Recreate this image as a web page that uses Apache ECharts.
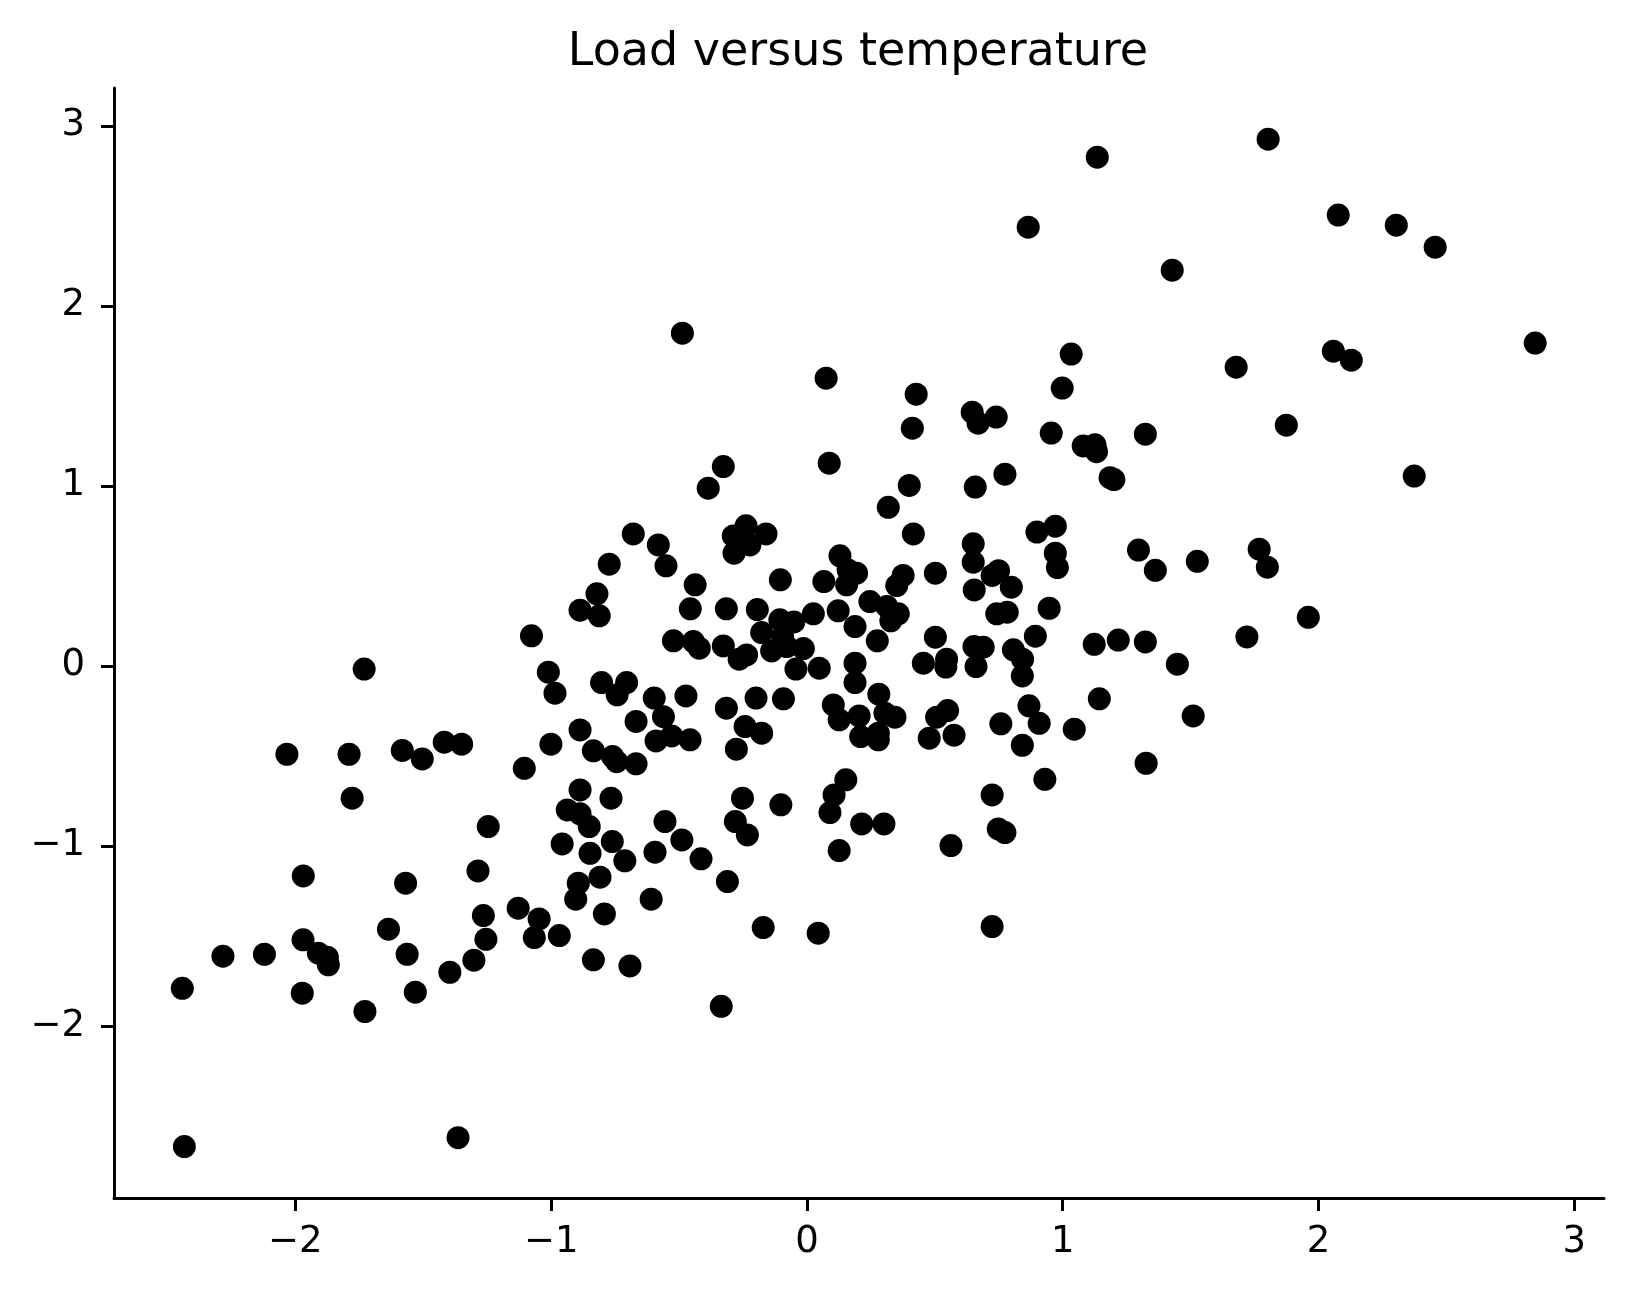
<!DOCTYPE html>
<html>
<head>
<meta charset="utf-8">
<script src="https://cdn.jsdelivr.net/npm/echarts@6/dist/echarts.min.js"></script>
<style>
  body { margin: 0; background: #fff; }
  #box { width: 1632px; height: 1293px; }
</style>
</head>
<body>
<div id="box"></div>
<script>
// temperature (x) and load (y)
var temperature = [
  -0.487, 0.075, 1.135, 0.865, 1.428, 1.033, 1.678, 0.427, 0.998, 0.412,
  0.646, 0.669, 0.74, 0.955, 1.08, 1.126, 1.132, 1.323, 1.803, 2.077,
  2.304, 2.456, 2.058, 2.128, 2.847, 1.874, 2.374, 1.768, 1.8, 1.96,
  1.72, 0.4, 0.658, 0.774, 1.185, 1.2, 0.318, 0.416, 0.65, 0.65,
  0.899, 0.971, 0.971, 0.979, 1.296, 1.362, 1.526, 0.376, 0.351, 0.502,
  0.749, 0.724, 0.799, 0.654, 0.246, 0.312, 0.357, 0.328, 0.742, 0.783,
  0.947, 0.275, 0.502, 0.455, 0.546, 0.543, 0.653, 0.689, 0.661, 0.807,
  0.843, 0.842, 0.893, 1.123, 1.217, 1.323, 1.448, 0.281, 0.305, 0.344,
  0.279, 0.279, 0.55, 0.507, 0.478, 0.575, 0.758, 0.868, 0.908, 0.842,
  1.045, 1.143, 1.51, 1.326, 0.93, 0.724, 0.301, 0.748, 0.774, 0.563,
  0.724, -0.327, 0.087, -0.386, -0.679, -0.581, -0.551, -0.773, -0.238, -0.288,
  -0.223, -0.285, -0.16, -0.26, 0.129, 0.155, 0.194, 0.161, -0.104, 0.066,
  -0.437, -0.821, -0.887, -0.812, -0.456, -0.315, -0.194, 0.025, 0.122, 0.188,
  -1.077, -0.106, -0.051, -0.177, -0.095, -0.138, -0.079, -0.014, -0.043, 0.048,
  -0.522, -0.444, -0.421, -0.327, -0.265, -0.236, 0.188, 0.188, -1.011, -0.985,
  -0.803, -0.705, -0.742, -0.597, -0.473, -0.561, -0.668, -0.315, -0.199, -0.092,
  0.103, 0.126, 0.204, 0.21, -0.242, -0.177, -0.276, -0.887, -1.001, -0.835,
  -0.76, -0.744, -0.668, -0.59, -0.529, -0.457, -1.105, -0.887, -0.766, -0.937,
  -0.887, -0.851, -0.555, -0.252, -0.28, -0.233, -0.102, 0.152, 0.106, 0.09,
  0.214, -1.731, -2.033, -1.79, -1.778, -1.582, -1.504, -1.418, -1.35, -1.246,
  -1.969, -1.569, -1.286, -1.265, -1.255, -1.636, -1.97, -1.91, -1.875, -1.871,
  -1.563, -1.302, -1.396, -1.531, -1.973, -1.728, -2.283, -2.121, -2.442, -2.434,
  -1.364, -0.957, -0.848, -0.761, -0.712, -0.594, -0.489, -0.414, -0.311, 0.126,
  -0.809, -0.894, -0.904, -0.609, -1.129, -1.047, -1.066, -0.968, -0.792, -0.835,
  -0.692, -0.171, 0.044, -0.335
];
var load = [
  1.848, 1.598, 2.826, 2.437, 2.198, 1.732, 1.659, 1.509, 1.543, 1.32,
  1.409, 1.348, 1.382, 1.293, 1.222, 1.228, 1.19, 1.287, 2.926, 2.504,
  2.448, 2.326, 1.748, 1.698, 1.793, 1.337, 1.054, 0.648, 0.548, 0.27,
  0.161, 1.002, 0.993, 1.065, 1.045, 1.035, 0.881, 0.733, 0.678, 0.576,
  0.743, 0.776, 0.626, 0.546, 0.643, 0.531, 0.581, 0.502, 0.446, 0.515,
  0.529, 0.502, 0.437, 0.422, 0.357, 0.33, 0.289, 0.25, 0.289, 0.298,
  0.32, 0.139, 0.159, 0.015, 0.037, -0.007, 0.107, 0.104, -0.004, 0.089,
  0.037, -0.056, 0.165, 0.12, 0.143, 0.133, 0.009, -0.157, -0.263, -0.285,
  -0.374, -0.411, -0.248, -0.285, -0.402, -0.385, -0.322, -0.222, -0.319, -0.441,
  -0.352, -0.183, -0.278, -0.541, -0.63, -0.717, -0.878, -0.906, -0.926, -0.998,
  -1.448, 1.107, 1.126, 0.987, 0.733, 0.672, 0.556, 0.565, 0.778, 0.722,
  0.672, 0.626, 0.733, 0.70, 0.611, 0.45, 0.515, 0.533, 0.478, 0.468,
  0.45, 0.4, 0.309, 0.278, 0.317, 0.317, 0.313, 0.289, 0.306, 0.218,
  0.167, 0.256, 0.244, 0.185, 0.163, 0.083, 0.107, 0.096, -0.018, -0.013,
  0.139, 0.135, 0.098, 0.111, 0.037, 0.061, 0.015, -0.093, -0.035, -0.152,
  -0.093, -0.093, -0.161, -0.179, -0.167, -0.282, -0.309, -0.235, -0.179, -0.183,
  -0.217, -0.3, -0.278, -0.393, -0.337, -0.374, -0.463, -0.356, -0.435, -0.472,
  -0.504, -0.532, -0.544, -0.417, -0.389, -0.411, -0.569, -0.689, -0.735, -0.8,
  -0.822, -0.893, -0.865, -0.735, -0.865, -0.939, -0.772, -0.633, -0.717, -0.815,
  -0.878, -0.018, -0.491, -0.491, -0.735, -0.47, -0.517, -0.424, -0.435, -0.893,
  -1.167, -1.207, -1.139, -1.387, -1.519, -1.463, -1.522, -1.596, -1.618, -1.661,
  -1.602, -1.635, -1.702, -1.813, -1.818, -1.92, -1.613, -1.602, -1.791, -2.67,
  -2.621, -0.989, -1.041, -0.976, -1.083, -1.035, -0.967, -1.072, -1.198, -1.026,
  -1.174, -1.207, -1.296, -1.296, -1.346, -1.406, -1.509, -1.498, -1.378, -1.633,
  -1.667, -1.454, -1.485, -1.891
];
var xTicks = [-2, -1, 0, 1, 2, 3];
var yTicks = [-2, -1, 0, 1, 2, 3];

var points = [];
for (var i = 0; i < temperature.length; i++) {
  points.push([temperature[i], load[i]]);
}

function minus(v) {
  return String(v).replace('-', '\u2212');
}

var font = 'DejaVu Sans';

var option = {
  animation: false,
  backgroundColor: '#fff',
  title: {
    text: 'Load versus temperature',
    left: 858,
    top: 30,
    padding: 0,
    textAlign: 'center',
    textStyle: { fontFamily: font, fontSize: 46, fontWeight: 'normal', color: '#000' }
  },
  grid: { left: 114, right: 28, top: 88, bottom: 95 },
  xAxis: {
    type: 'value',
    min: -2.709,
    max: 3.116,
    splitLine: { show: false },
    axisLine: { onZero: false, lineStyle: { color: '#000', width: 3 } },
    axisTick: { customValues: xTicks, length: 13, lineStyle: { color: '#000', width: 3 } },
    axisLabel: {
      customValues: xTicks,
      margin: 26,
      fontFamily: font,
      fontSize: 37,
      color: '#000',
      formatter: minus
    }
  },
  yAxis: {
    type: 'value',
    min: -2.956,
    max: 3.21,
    splitLine: { show: false },
    axisLine: { show: true, onZero: false, lineStyle: { color: '#000', width: 3 } },
    axisTick: { show: true, customValues: yTicks, length: 13, lineStyle: { color: '#000', width: 3 } },
    axisLabel: {
      customValues: yTicks,
      margin: 29,
      fontFamily: font,
      fontSize: 37,
      color: '#000',
      formatter: minus
    }
  },
  series: [
    {
      name: 'load',
      type: 'scatter',
      data: points,
      symbol: 'circle',
      symbolSize: 23,
      itemStyle: { color: '#000', opacity: 1 }
    }
  ]
};

var myChart = echarts.init(document.getElementById('box'));
myChart.setOption(option);
</script>
</body>
</html>
